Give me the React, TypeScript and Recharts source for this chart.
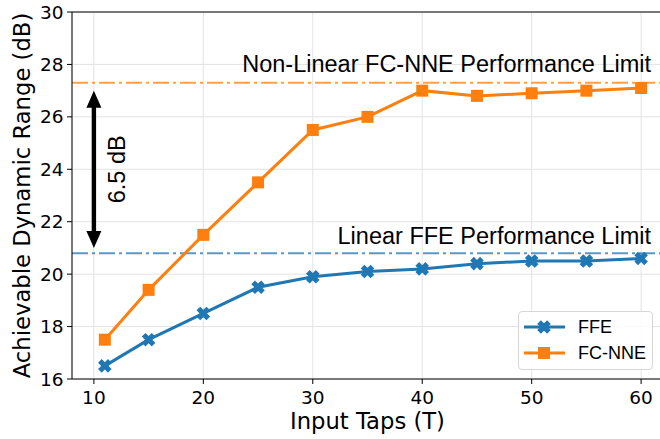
import React from 'react'
import {
  LineChart,
  Line,
  XAxis,
  YAxis,
  CartesianGrid,
  ReferenceLine,
  Legend,
} from 'recharts'

const taps = [11, 15, 20, 25, 30, 35, 40, 45, 50, 55, 60]
const ffe = [16.5, 17.5, 18.5, 19.5, 19.9, 20.1, 20.2, 20.4, 20.5, 20.5, 20.6]
const fcNne = [17.5, 19.4, 21.5, 23.5, 25.5, 26.0, 27.0, 26.8, 26.9, 27.0, 27.1]
const xTicks = [10, 20, 30, 40, 50, 60]
const yTicks = [16, 18, 20, 22, 24, 26, 28, 30]
const linearLimit = 20.8
const nonLinearLimit = 27.3
const gapFrom = 21.0
const gapTo = 27.0
const gapTap = 10
const gapText = '6.5 dB'

const BLUE = '#1f77b4'
const ORANGE = '#ff7f0e'
const TICK_FONT = 'DejaVu Sans'
const NOTE_FONT = 'Liberation Sans'

const data = taps.map((t, i) => ({ t, ffe: ffe[i], fcNne: fcNne[i] }))

// matplotlib 'X' marker: a plus of thick arms turned by 45 degrees
function XMark({ cx, cy, r = 7, w = 2.6, color = BLUE }: any) {
  const pts = [
    [-w, -r], [w, -r], [w, -w], [r, -w], [r, w], [w, w],
    [w, r], [-w, r], [-w, w], [-r, w], [-r, -w], [-w, -w],
  ]
  const c = Math.SQRT1_2
  const s = pts
    .map(([x, y]) => `${cx + (x - y) * c},${cy + (x + y) * c}`)
    .join(' ')
  return <polygon points={s} fill={color} />
}

function Square({ cx, cy, size = 12, color = ORANGE }: any) {
  return <rect x={cx - size / 2} y={cy - size / 2} width={size} height={size} fill={color} />
}

function limitLabel(text: string, gap: number) {
  return (props: any) => {
    const vb = props.viewBox || {}
    return (
      <text
        x={vb.x + vb.width - 12}
        y={vb.y - gap}
        textAnchor="end"
        fontFamily={NOTE_FONT}
        fontSize={23.5}
        fill="#000"
      >
        {text}
      </text>
    )
  }
}

function GapArrow(props: any) {
  const { x1, y1, y2 } = props
  const top = Math.min(y1, y2)
  const bottom = Math.max(y1, y2)
  const head = 17
  const hw = 7.5
  const sw = 2.2
  return (
    <g>
      <rect x={x1 - sw} y={top + head - 1} width={sw * 2} height={bottom - top - head * 2 + 2} fill="#000" />
      <polygon points={`${x1},${top} ${x1 - hw},${top + head} ${x1 + hw},${top + head}`} fill="#000" />
      <polygon points={`${x1},${bottom} ${x1 - hw},${bottom - head} ${x1 + hw},${bottom - head}`} fill="#000" />
      <text
        x={x1 + 23}
        y={(top + bottom) / 2}
        transform={`rotate(-90 ${x1 + 23} ${(top + bottom) / 2})`}
        textAnchor="middle"
        dominantBaseline="central"
        fontFamily={NOTE_FONT}
        fontSize={23.5}
        fill="#000"
      >
        {gapText}
      </text>
    </g>
  )
}

function LegendBox() {
  const rows = [
    { name: 'FFE', color: BLUE, mark: 'x' },
    { name: 'FC-NNE', color: ORANGE, mark: 'sq' },
  ]
  return (
    <div
      style={{
        width: 135,
        height: 59,
        boxSizing: 'border-box',
        background: 'rgba(255,255,255,0.85)',
        border: '1px solid #d6d6d6',
        borderRadius: 4,
      }}
    >
      <svg width={133} height={57}>
        {rows.map((r, i) => {
          const y = 15 + i * 26
          return (
            <g key={r.name}>
              <line x1={5} x2={46} y1={y} y2={y} stroke={r.color} strokeWidth={3} />
              {r.mark === 'x' ? (
                <XMark cx={25} cy={y} color={r.color} />
              ) : (
                <Square cx={25} cy={y} color={r.color} />
              )}
              <text x={59} y={y} dominantBaseline="central" fontFamily={NOTE_FONT} fontSize={18} fill="#000">
                {r.name}
              </text>
            </g>
          )
        })}
      </svg>
    </div>
  )
}

export default function App() {
  return (
    <div
      style={{
        position: 'absolute',
        left: 0,
        top: 0,
        width: 660,
        height: 439,
        overflow: 'hidden',
        background: '#fff',
        fontFamily: TICK_FONT,
      }}
    >
      <LineChart width={670} height={439} data={data} margin={{ top: 12, right: 7, left: 0, bottom: 0 }}>
        <CartesianGrid stroke="#e3e3e3" strokeWidth={1} />
        <XAxis
          dataKey="t"
          type="number"
          domain={[8, 62]}
          ticks={xTicks}
          allowDataOverflow
          height={60}
          tickSize={5}
          tickMargin={7}
          stroke="#000"
          tick={{ fill: '#000', fontSize: 18.5, fontFamily: TICK_FONT }}
          label={{ value: 'Input Taps (T)', position: 'insideBottom', offset: 10, fill: '#000', fontSize: 22.7, fontFamily: TICK_FONT }}
        />
        <YAxis
          type="number"
          domain={[16, 30]}
          ticks={yTicks}
          allowDataOverflow
          width={72}
          tickSize={5}
          tickMargin={3.5}
          stroke="#000"
          tick={{ fill: '#000', fontSize: 18.5, fontFamily: TICK_FONT }}
          label={{
            content: (p: any) => {
              const vb = p.viewBox || {}
              const cx = 22
              const cy = vb.y + vb.height / 2
              return (
                <text
                  x={cx}
                  y={cy}
                  transform={`rotate(-90 ${cx} ${cy})`}
                  textAnchor="middle"
                  dominantBaseline="central"
                  fontFamily={TICK_FONT}
                  fontSize={22.7}
                  fill="#000"
                >
                  Achievable Dynamic Range (dB)
                </text>
              )
            },
          }}
        />
        <ReferenceLine y={30} stroke="#000" strokeWidth={1} />
        <ReferenceLine
          y={nonLinearLimit}
          stroke={ORANGE}
          strokeOpacity={0.75}
          strokeWidth={2}
          strokeDasharray="16 4 3 4"
          label={limitLabel('Non-Linear FC-NNE Performance Limit', 11)}
        />
        <ReferenceLine
          y={linearLimit}
          stroke={BLUE}
          strokeOpacity={0.75}
          strokeWidth={2}
          strokeDasharray="16 4 3 4"
          label={limitLabel('Linear FFE Performance Limit', 9)}
        />
        <ReferenceLine
          segment={[
            { x: gapTap, y: gapFrom },
            { x: gapTap, y: gapTo },
          ]}
          shape={GapArrow}
        />
        <Line
          dataKey="ffe"
          name="FFE"
          stroke={BLUE}
          strokeWidth={3}
          isAnimationActive={false}
          dot={(p: any) => <XMark key={`ffe-${p.index}`} cx={p.cx} cy={p.cy} />}
          activeDot={false}
        />
        <Line
          dataKey="fcNne"
          name="FC-NNE"
          stroke={ORANGE}
          strokeWidth={3}
          isAnimationActive={false}
          dot={(p: any) => <Square key={`nne-${p.index}`} cx={p.cx} cy={p.cy} />}
          activeDot={false}
        />
        <Legend
          layout="vertical"
          align="center"
          verticalAlign="middle"
          content={() => <LegendBox />}
          wrapperStyle={{ left: 518, top: 311, width: 135, height: 59 }}
        />
      </LineChart>
    </div>
  )
}
